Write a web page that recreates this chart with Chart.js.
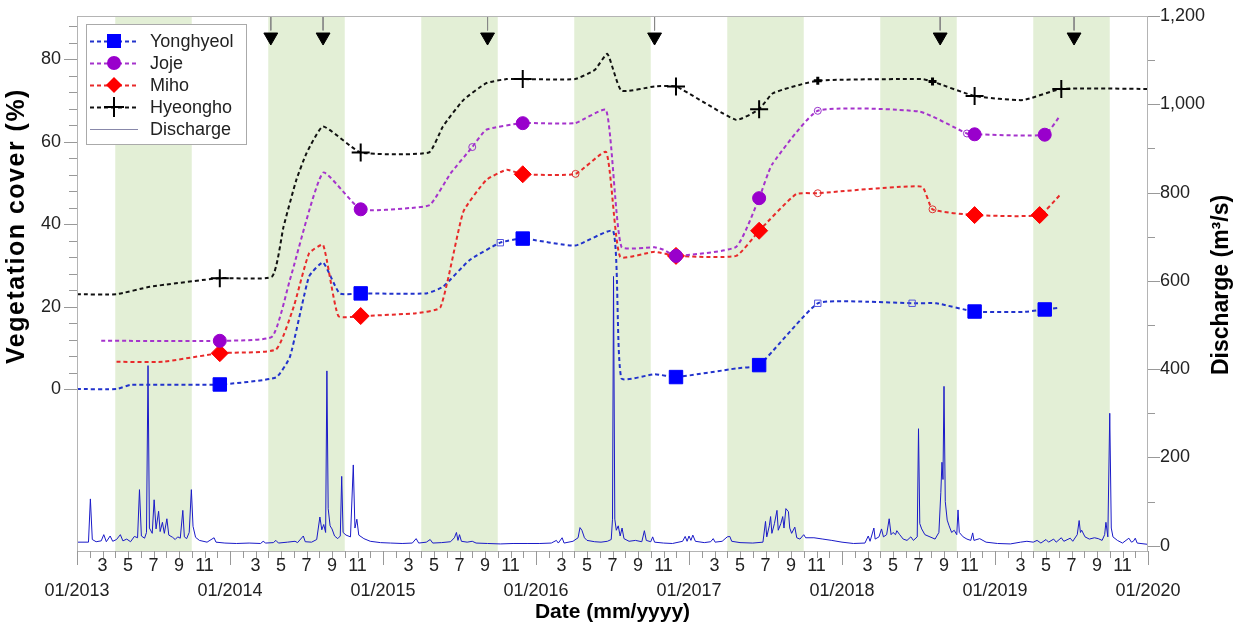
<!DOCTYPE html>
<html>
<head>
<meta charset="utf-8">
<script src="https://cdn.jsdelivr.net/npm/chart.js"></script>
<style>
    html, body { margin: 0; padding: 0; background: #fff; }
    #contenedor { position: relative; width: 1239px; height: 628px; }
    #leyenda {
        position: absolute; left: 86px; top: 24px; width: 161px; height: 121px;
        box-sizing: border-box; border: 1px solid #aaa; background: #fff;
        font-family: "Liberation Sans", Arial, sans-serif; font-size: 18px; color: #222;
        padding-top: 5px;
    }
    .fila { height: 22px; display: flex; align-items: center; }
    .fila canvas { margin-left: 3px; margin-right: 12px; }
</style>
</head>
<body>
<div id="contenedor">
    <canvas id="grafico" width="1239" height="628"></canvas>
    <div id="leyenda"></div>
</div>
<script>
// meses desde 01/2013
const yongMes = [0, 3.1, 4.2, 11.2, 15.6, 16.7, 18.2, 19.3, 20.6, 22.25, 27.4, 28.7, 30.8, 33.2, 34.96, 39.06, 42.06, 42.7, 45.3, 46.98, 51.7, 53.5, 58.1, 61.9, 65.5, 67.4, 70.4, 74.2, 75.9, 77.0];
const yongCob = [0, 0, 1.0, 1.1, 2.8, 7.8, 27.3, 30.7, 23.2, 23.2, 23.2, 24.8, 31.3, 35.5, 36.5, 34.8, 38.3, 2.6, 3.6, 2.9, 5.0, 5.8, 20.8, 21.2, 20.8, 20.8, 18.8, 18.7, 19.3, 19.7];

const jojeMes = [1.9, 11.2, 15.3, 16.7, 19.3, 22.25, 26.1, 27.7, 29.3, 31.0, 32.1, 34.96, 39.06, 41.5, 42.7, 45.3, 46.0, 46.98, 51.7, 53.5, 54.5, 58.1, 66.1, 69.8, 70.4, 75.9, 77.1];
const jojeCob = [11.7, 11.7, 12.7, 26.5, 52.5, 43.6, 43.9, 44.7, 52.3, 58.7, 62.9, 64.5, 64.5, 67.7, 34.5, 34.4, 33.8, 32.3, 34.5, 46.3, 54.4, 67.5, 67.3, 62.0, 61.8, 61.7, 66.3];

const mihoMes = [3.1, 6.7, 11.2, 15.6, 17.0, 18.2, 19.3, 20.5, 22.25, 26.6, 28.5, 30.3, 32.1, 33.7, 34.96, 39.1, 41.5, 42.6, 45.3, 46.98, 51.7, 53.5, 56.4, 58.1, 66.25, 67.1, 70.4, 75.5, 77.1];
const mihoCob = [6.6, 6.6, 8.7, 9.6, 20, 32.9, 35.0, 17.7, 17.7, 18.4, 19.8, 43.0, 50.7, 53.2, 52.1, 52.2, 57.5, 32.1, 33.3, 32.3, 32.3, 38.4, 47.3, 47.5, 49.1, 43.6, 42.2, 42.2, 47.1];

const hyeonMes = [0, 3.1, 5.7, 11.2, 15.3, 16.2, 17.2, 18.0, 19.3, 22.25, 27.6, 28.7, 30.3, 32.1, 33.7, 34.96, 39.06, 40.6, 41.6, 42.7, 45.3, 46.98, 51.7, 53.5, 54.6, 58.1, 66.25, 67.1, 70.4, 74.2, 77.2, 84];
const hyeonCob = [23, 23, 24.8, 26.9, 27.3, 39.4, 50.7, 57.2, 63.7, 57.4, 57.4, 63.7, 70.1, 74.2, 75.2, 75.2, 75.2, 77.4, 81.3, 72.4, 73.4, 73.4, 65.3, 67.9, 71.8, 74.8, 75.2, 74.6, 71.1, 70.1, 72.8, 72.8];

// muestreos (marcadores grandes) y puntos intermedios (marcadores chicos)
const yongMuestraMes = [11.2, 22.25, 34.96, 46.98, 53.5, 70.4, 75.9];
const yongMuestra = [1.1, 23.2, 36.5, 2.9, 5.8, 18.8, 19.3];
const yongAbiertoMes = [33.2, 58.1, 65.5];
const yongAbierto = [35.5, 20.8, 20.8];

const jojeMuestraMes = [11.2, 22.25, 34.96, 46.98, 53.5, 70.4, 75.9];
const jojeMuestra = [11.7, 43.6, 64.5, 32.3, 46.3, 61.8, 61.7];
const jojeAbiertoMes = [31.0, 58.1, 69.8];
const jojeAbierto = [58.7, 67.5, 62.0];

const mihoMuestraMes = [11.2, 22.25, 34.96, 46.98, 53.5, 70.4, 75.5];
const mihoMuestra = [8.7, 17.7, 52.1, 32.3, 38.4, 42.2, 42.2];
const mihoAbiertoMes = [39.1, 58.1, 67.1];
const mihoAbierto = [52.2, 47.5, 43.6];

const hyeonMuestraMes = [11.2, 22.25, 34.96, 46.98, 53.5, 70.4, 77.2];
const hyeonMuestra = [26.9, 57.4, 75.2, 73.4, 67.9, 71.1, 72.8];
const hyeonChicoMes = [58.1, 67.1];
const hyeonChico = [74.8, 74.6];

// caudal (m3/s)
const caudalMes = [0, 0.9, 1.05, 1.2, 1.5, 1.9, 2.1, 2.3, 2.6, 2.8, 3.1, 3.4, 3.6, 3.9, 4.2, 4.5, 4.75, 4.9, 5.05, 5.3, 5.45, 5.57, 5.68, 5.9, 6.05, 6.2, 6.4, 6.52, 6.7, 6.85, 7.05, 7.2, 7.5, 7.7, 7.9, 8.1, 8.3, 8.42, 8.6, 8.8, 8.97, 9.1, 9.3, 9.6, 10.2, 10.75, 10.9, 11.6,
    12.5, 13.5, 14.4, 14.6, 14.8, 15.4, 15.6, 15.8, 16.5, 17.1, 17.3, 17.75, 17.9, 18.4, 18.8, 19.05, 19.2, 19.35, 19.5, 19.6, 19.7, 19.85, 20.0, 20.2, 20.45, 20.65, 20.76, 20.87, 21.1, 21.45, 21.67, 21.8, 21.95, 22.1, 22.5, 23.0, 23.8,
    24.6, 25.5, 26.3, 26.6, 26.8, 27.4, 27.7, 27.9, 28.6, 29.3, 29.6, 29.76, 29.88, 30.0, 30.15, 30.6, 31.0, 31.3, 32.2, 33.2, 34.2, 35.3,
    36.3, 37.2, 37.6, 37.75, 38.05, 38.2, 38.9, 39.3, 39.45, 39.6, 39.8, 40.0, 40.6, 41.1, 41.6, 41.9, 42.0, 42.08, 42.18, 42.3, 42.45, 42.6, 42.75, 42.9, 43.3, 43.8, 44.3, 44.5, 44.65, 45.0, 45.15, 45.3, 46.0, 46.7,
    47.5, 47.7, 47.85, 48.0, 48.15, 48.3, 48.5, 49.2, 49.7, 49.9, 50.05, 50.6, 51.0, 51.2, 51.35, 52.0, 53.0, 53.8, 54.0, 54.1, 54.3, 54.4, 54.5, 54.7, 54.9, 55.0, 55.2, 55.35, 55.45, 55.6, 55.8, 55.9, 56.05, 56.3, 56.45, 56.7, 57.0, 57.15, 57.8, 58.5, 59.2,
    60.0, 60.9, 61.8, 62.06, 62.2, 62.5, 62.6, 62.9, 63.1, 63.25, 63.5, 63.7, 63.85, 64.0, 64.2, 64.3, 64.5, 64.8, 65.1, 65.4, 65.6, 65.9, 66.0, 66.1, 66.25, 66.5, 66.9, 67.3, 67.6, 67.75, 67.84, 67.92, 68.0, 68.1, 68.25, 68.4, 68.6, 68.8, 69.0, 69.1, 69.2, 69.5, 69.8, 70.1, 70.25, 70.35, 70.8, 71.3,
    72.2, 73.2, 74.0, 74.5, 75.0, 75.3, 75.6, 76.0, 76.2, 76.6, 76.8, 77.2, 77.4, 77.9, 78.1, 78.45, 78.6, 78.7, 78.8, 79.06, 79.4, 79.8, 80.1, 80.4, 80.6, 80.7, 80.85, 81.0, 81.12, 81.25, 81.6, 82.0, 82.5, 82.7, 82.85, 83.0, 83.15, 84.0];
const caudalValor = [8, 8, 106, 14, 9, 11, 25, 9, 22, 10, 14, 25, 11, 15, 9, 21, 18, 127, 22, 17, 30, 408, 40, 28, 104, 38, 78, 32, 53, 28, 61, 24, 19, 14, 20, 17, 80, 20, 16, 30, 127, 44, 19, 12, 8, 18, 8, 6,
    5, 6, 5, 10, 6, 7, 12, 6, 8, 10, 7, 22, 9, 8, 14, 65, 36, 48, 30, 396, 84, 45, 38, 22, 16, 22, 157, 30, 24, 20, 183, 40, 60, 24, 16, 10, 7,
    6, 5, 6, 16, 6, 8, 14, 6, 7, 9, 18, 30, 12, 25, 10, 8, 10, 6, 5, 4, 5, 5,
    5, 6, 12, 6, 18, 6, 10, 18, 41, 35, 18, 12, 9, 8, 10, 14, 60, 610, 60, 35, 45, 22, 40, 16, 10, 12, 9, 34, 12, 9, 20, 8, 6, 5,
    10, 21, 10, 22, 12, 24, 10, 7, 9, 16, 8, 10, 20, 21, 10, 7, 6, 8, 55, 20, 45, 66, 28, 50, 80, 35, 50, 66, 40, 84, 77, 40, 28, 42, 18, 15, 25, 18, 18, 15, 12,
    8, 5, 6, 22, 10, 40, 15, 20, 38, 20, 25, 61, 25, 30, 25, 34, 26, 15, 12, 20, 12, 20, 265, 50, 38, 25, 20, 15, 30, 120, 189, 150, 361, 100, 58, 45, 30, 35, 25, 81, 30, 20, 15, 12, 29, 12, 16, 8,
    5, 4, 8, 10, 8, 12, 6, 14, 8, 15, 8, 18, 10, 17, 10, 25, 57, 30, 35, 20, 15, 18, 16, 12, 25, 53, 20, 300, 40, 20, 12, 6, 17, 8, 10, 17, 6, 3];

// temporadas (abril a octubre) y crecidas
const temporadaInicio = [3, 15, 27, 39, 51, 63, 75];
const temporadaFin = [9, 21, 33, 45, 57, 69, 81];
const crecidaMes = [15.2, 19.3, 32.2, 45.3, 67.7, 78.2];

// ejes
const anios = ['01/2013', '01/2014', '01/2015', '01/2016', '01/2017', '01/2018', '01/2019', '01/2020'];
const etiquetasMes = ['', '', '3', '', '5', '', '7', '', '9', '', '11', ''];
const ticksIzq = [0, 4, 8, 12, 16, 20, 24, 28, 32, 36, 40, 44, 48, 52, 56, 60, 64, 68, 72, 76, 80, 84, 88];
const ticksDer = [0, 100, 200, 300, 400, 500, 600, 700, 800, 900, 1000, 1100, 1200];

const fuente = '"Liberation Sans", Arial, sans-serif';
Chart.defaults.font.family = fuente;

const puntos = (meses, valores) => meses.map((m, i) => ({ x: m, y: valores[i] }));

const ticksMeses = [];
for (let v = 0; v <= 84; v++) ticksMeses.push(v);

const nivelCrecida = 85.4;
const lineasCrecida = [];
crecidaMes.forEach(m => {
    lineasCrecida.push({ x: m, y: 90.5 }, { x: m, y: 87 }, { x: m, y: null });
});

function linea(datos, color, orden) {
    return {
        data: datos, borderColor: color, borderWidth: 2, borderDash: [4, 3],
        pointRadius: 0, tension: 0.15, yAxisID: 'y', order: orden
    };
}

function marcas(datos, estilo, radio, relleno, borde, ancho, orden) {
    return {
        data: datos, showLine: false, pointStyle: estilo, pointRadius: radio,
        pointBackgroundColor: relleno, pointBorderColor: borde, pointBorderWidth: ancho,
        yAxisID: 'y', order: orden
    };
}

const fondoVerde = {
    id: 'fondoVerde',
    beforeDatasetsDraw(chart) {
        const { ctx, chartArea: a, scales: { x } } = chart;
        ctx.save();
        ctx.fillStyle = '#e3efd6';
        temporadaInicio.forEach((ini, i) => {
            const x1 = x.getPixelForValue(ini);
            const x2 = x.getPixelForValue(temporadaFin[i]);
            ctx.fillRect(x1, a.top, x2 - x1, a.bottom - a.top);
        });
        ctx.restore();
    }
};

const marco = {
    id: 'marco',
    afterDraw(chart) {
        const { ctx, chartArea: a, scales } = chart;
        ctx.save();
        ctx.strokeStyle = '#b4b4b4';
        ctx.lineWidth = 1;
        ctx.strokeRect(a.left + 0.5, a.top + 0.5, a.right - a.left - 1, a.bottom - a.top);

        ctx.strokeStyle = '#999';
        ctx.beginPath();
        scales.x.ticks.forEach(t => {
            const px = Math.round(scales.x.getPixelForValue(t.value)) + 0.5;
            const largo = t.value % 12 === 0 ? 14 : 7;
            ctx.moveTo(px, a.bottom);
            ctx.lineTo(px, a.bottom + largo);
        });
        scales.y.ticks.forEach(t => {
            const py = Math.round(scales.y.getPixelForValue(t.value)) + 0.5;
            const largo = t.value % 20 === 0 ? 13 : 8;
            ctx.moveTo(a.left - largo, py);
            ctx.lineTo(a.left, py);
        });
        scales.y2.ticks.forEach(t => {
            const py = Math.round(scales.y2.getPixelForValue(t.value)) + 0.5;
            const largo = t.value % 200 === 0 ? 12 : 7;
            ctx.moveTo(a.right, py);
            ctx.lineTo(a.right + largo, py);
        });
        ctx.stroke();

        // titulos de los ejes verticales
        ctx.fillStyle = '#000';
        ctx.textAlign = 'center';
        ctx.textBaseline = 'middle';
        ctx.save();
        ctx.font = 'bold 25px ' + fuente;
        ctx.letterSpacing = '1.5px';
        ctx.translate(17, 226);
        ctx.rotate(-Math.PI / 2);
        ctx.fillText('Vegetation cover (%)', 0, 0);
        ctx.restore();
        ctx.font = 'bold 23px ' + fuente;
        ctx.translate(1222, 285);
        ctx.rotate(-Math.PI / 2);
        ctx.fillText('Discharge (m\u00b3/s)', 0, 0);
        ctx.restore();
    }
};

const ctx = document.getElementById('grafico').getContext('2d');
const grafico = new Chart(ctx, {
    type: 'line',
    data: {
        datasets: [
            { data: lineasCrecida, borderColor: '#888', borderWidth: 1, pointRadius: 0, spanGaps: false, yAxisID: 'y', order: 1 },
            Object.assign(marcas(crecidaMes.map(m => ({ x: m, y: nivelCrecida })), 'triangle', 8, '#000', '#000', 1, 1), { pointRotation: 180 }),

            marcas(puntos(hyeonMuestraMes, hyeonMuestra), 'cross', 9, '#000', '#000', 2, 2),
            marcas(puntos(hyeonChicoMes, hyeonChico), 'cross', 4, '#000', '#000', 3, 2),
            marcas(puntos(jojeMuestraMes, jojeMuestra), 'circle', 6.5, '#9900cc', '#9900cc', 1, 3),
            marcas(puntos(jojeAbiertoMes, jojeAbierto), 'circle', 3.5, 'rgba(0,0,0,0)', '#9933cc', 1, 3),
            marcas(puntos(mihoMuestraMes, mihoMuestra), 'rectRot', 8.5, '#ff0000', '#ff0000', 1, 4),
            marcas(puntos(mihoAbiertoMes, mihoAbierto), 'circle', 3.5, 'rgba(0,0,0,0)', '#dd3333', 1, 4),
            marcas(puntos(yongMuestraMes, yongMuestra), 'rect', 9.5, '#0000ff', '#0000ff', 1, 5),
            marcas(puntos(yongAbiertoMes, yongAbierto), 'rect', 4.5, 'rgba(0,0,0,0)', '#5555dd', 1, 5),

            linea(puntos(hyeonMes, hyeonCob), '#111111', 10),
            linea(puntos(jojeMes, jojeCob), '#a533cc', 11),
            linea(puntos(mihoMes, mihoCob), '#e82a2a', 12),
            linea(puntos(yongMes, yongCob), '#2233cc', 13),

            { data: puntos(caudalMes, caudalValor), borderColor: '#1a1ac8', borderWidth: 1, pointRadius: 0, tension: 0, yAxisID: 'y2', order: 20 }
        ]
    },
    options: {
        responsive: false,
        animation: false,
        layout: { padding: { top: 16, left: 0, right: 0, bottom: 0 } },
        plugins: { legend: { display: false }, tooltip: { enabled: false } },
        scales: {
            x: {
                type: 'linear', min: 0, max: 84,
                afterBuildTicks: s => { s.ticks = ticksMeses.map(v => ({ value: v })); },
                afterFit: s => { s.height = 77; },
                grid: { drawOnChartArea: false, drawTicks: true, tickLength: 1, color: 'rgba(0,0,0,0)' },
                border: { display: false },
                ticks: {
                    autoSkip: false, maxRotation: 0, minRotation: 0, padding: 1,
                    color: '#222', font: { size: 18, lineHeight: 1.4 },
                    callback: v => (v % 12 === 0 ? ['', anios[v / 12]] : etiquetasMes[v % 12])
                },
                title: {
                    display: true, text: 'Date (mm/yyyy)', color: '#000',
                    font: { size: 21, weight: 'bold' }, padding: { top: 0, bottom: 3 }
                }
            },
            y: {
                position: 'left', min: -39.3, max: 90.5,
                afterBuildTicks: s => { s.ticks = ticksIzq.map(v => ({ value: v })); },
                afterFit: s => { s.width = 77; },
                grid: { drawOnChartArea: false, tickLength: 12, color: 'rgba(0,0,0,0)' },
                border: { display: false },
                ticks: { autoSkip: false, padding: 4, color: '#222', font: { size: 18 }, callback: v => (v % 20 === 0 ? v : '') }
            },
            y2: {
                position: 'right', min: -12, max: 1200,
                afterBuildTicks: s => { s.ticks = ticksDer.map(v => ({ value: v })); },
                afterFit: s => { s.width = 91; },
                grid: { drawOnChartArea: false, tickLength: 8, color: 'rgba(0,0,0,0)' },
                border: { display: false },
                ticks: { autoSkip: false, padding: 4, color: '#222', font: { size: 18 }, callback: v => (v % 200 === 0 ? v.toLocaleString('en-US') : '') }
            }
        }
    },
    plugins: [fondoVerde, marco]
});

// leyenda
const series = [
    { nombre: 'Yonghyeol', color: '#2233cc', marca: 'cuadro', relleno: '#0000ff' },
    { nombre: 'Joje', color: '#a533cc', marca: 'circulo', relleno: '#9900cc' },
    { nombre: 'Miho', color: '#e82a2a', marca: 'rombo', relleno: '#ff0000' },
    { nombre: 'Hyeongho', color: '#111111', marca: 'cruz', relleno: '#000' },
    { nombre: 'Discharge', color: '#8888aa', marca: null }
];

const leyenda = document.getElementById('leyenda');
series.forEach(s => {
    const fila = document.createElement('div');
    fila.className = 'fila';
    const cv = document.createElement('canvas');
    cv.width = 48; cv.height = 20;
    const c = cv.getContext('2d');
    c.strokeStyle = s.color;
    if (s.marca) {
        c.lineWidth = 2;
        c.setLineDash([4, 3]);
    } else {
        c.lineWidth = 1;
    }
    c.beginPath(); c.moveTo(0, 10.5); c.lineTo(48, 10.5); c.stroke();
    c.setLineDash([]);
    c.fillStyle = s.relleno;
    if (s.marca === 'cuadro') c.fillRect(17, 3, 14, 14);
    if (s.marca === 'circulo') { c.beginPath(); c.arc(24, 10, 7, 0, Math.PI * 2); c.fill(); }
    if (s.marca === 'rombo') { c.beginPath(); c.moveTo(24, 2); c.lineTo(32, 10); c.lineTo(24, 18); c.lineTo(16, 10); c.closePath(); c.fill(); }
    if (s.marca === 'cruz') {
        c.strokeStyle = '#000'; c.lineWidth = 2;
        c.beginPath(); c.moveTo(14, 10); c.lineTo(34, 10); c.moveTo(24, 0); c.lineTo(24, 20); c.stroke();
    }
    const texto = document.createElement('span');
    texto.textContent = s.nombre;
    fila.appendChild(cv);
    fila.appendChild(texto);
    leyenda.appendChild(fila);
});
</script>
</body>
</html>
